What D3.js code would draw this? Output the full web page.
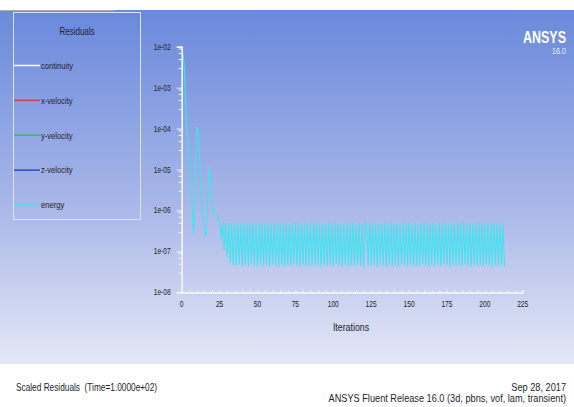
<!DOCTYPE html>
<html><head><meta charset="utf-8">
<script src="https://cdn.jsdelivr.net/npm/d3@7"></script>
<style>html,body{margin:0;padding:0;background:#fff;overflow:hidden}</style>
</head><body>
<svg id="c" width="574" height="407"></svg>
<script>
// ---- data ----
const seriesNames = ["continuity", "x-velocity", "y-velocity", "z-velocity", "energy"];
const seriesColors = ["#ffffff", "#c8405a", "#30c850", "#3444cc", "#40e4f0"];
const yTickValues = [1e-8, 1e-7, 1e-6, 1e-5, 1e-4, 1e-3, 1e-2];
const xTickValues = [0, 25, 50, 75, 100, 125, 150, 175, 200, 225];
// energy residual, one value per iteration (1..213)
const energy = [
  7.0e-3, 2.0e-3, 1.6e-4, 5.0e-5, 1.5e-5, 4.0e-6, 1.0e-6, 2.7e-7, 1.0e-5, 1.1e-4,
  8.0e-5, 1.2e-5, 2.5e-6, 7.0e-7, 3.0e-7, 2.3e-7, 2.0e-6, 1.2e-5, 4.0e-6, 1.4e-6,
  9.5e-7, 9.0e-7, 8.0e-7, 6.0e-7,
  5.2e-7, 2.0e-7, 5.0e-7, 1.1e-7, 4.9e-7, 7.0e-8, 5.1e-7, 5.2e-8, 4.8e-7, 4.5e-8,
  4.9e-7, 4.4e-8, 5.1e-7, 4.7e-8, 4.8e-7, 4.2e-8, 5.2e-7, 4.6e-8, 4.9e-7, 4.3e-8,
  5.0e-7, 4.8e-8, 4.7e-7, 4.4e-8, 5.2e-7, 4.1e-8, 4.9e-7, 4.6e-8, 5.1e-7, 4.3e-8,
  4.8e-7, 4.5e-8, 5.0e-7, 4.2e-8, 4.7e-7, 4.7e-8, 5.2e-7, 4.4e-8, 4.9e-7, 4.1e-8,
  5.1e-7, 4.6e-8, 4.8e-7, 4.3e-8, 5.0e-7, 4.5e-8, 4.6e-7, 4.2e-8, 5.1e-7, 4.8e-8,
  4.9e-7, 4.4e-8, 5.2e-7, 4.1e-8, 4.8e-7, 4.6e-8, 5.0e-7, 4.3e-8, 4.7e-7, 4.5e-8,
  5.1e-7, 4.2e-8, 4.9e-7, 4.7e-8, 5.2e-7, 4.4e-8, 4.8e-7, 4.1e-8, 5.0e-7, 4.6e-8,
  4.7e-7, 4.3e-8, 5.1e-7, 4.5e-8, 4.9e-7, 4.2e-8, 5.2e-7, 4.8e-8, 4.8e-7, 4.4e-8,
  5.0e-7, 4.1e-8, 4.6e-7, 4.6e-8, 5.1e-7, 4.3e-8, 4.9e-7, 4.5e-8, 5.2e-7, 4.2e-8,
  4.8e-7, 4.7e-8, 5.0e-7, 4.4e-8, 4.7e-7, 4.1e-8, 5.1e-7,
  4.3e-7, 4.6e-8, 4.9e-7, 4.3e-8, 5.2e-7, 4.5e-8, 4.8e-7, 4.2e-8, 5.0e-7, 4.8e-8,
  4.7e-7, 4.4e-8, 5.1e-7, 4.1e-8, 4.9e-7, 4.6e-8, 5.2e-7, 4.3e-8, 4.8e-7, 4.5e-8,
  5.0e-7, 4.2e-8, 4.6e-7, 4.7e-8, 5.1e-7, 4.4e-8, 4.9e-7, 4.1e-8, 5.2e-7, 4.6e-8,
  4.8e-7, 4.3e-8, 5.0e-7, 4.5e-8, 4.7e-7, 4.2e-8, 5.1e-7, 4.8e-8, 4.9e-7, 4.4e-8,
  5.2e-7, 4.1e-8, 4.8e-7, 4.6e-8, 5.0e-7, 4.3e-8, 4.6e-7, 4.5e-8, 5.1e-7, 4.2e-8,
  4.9e-7, 4.7e-8, 5.2e-7, 4.4e-8, 4.8e-7, 4.1e-8, 5.0e-7, 4.6e-8, 4.7e-7, 4.3e-8,
  5.1e-7, 4.5e-8, 4.9e-7, 4.2e-8, 5.2e-7, 4.8e-8, 4.8e-7, 4.4e-8, 5.0e-7, 4.1e-8,
  4.6e-7, 4.6e-8, 5.1e-7, 4.3e-8, 4.9e-7, 4.5e-8, 5.2e-7, 4.2e-8, 4.8e-7, 4.7e-8,
  5.0e-7, 4.4e-8, 4.7e-7, 4.1e-8, 5.1e-7, 4.6e-8, 4.9e-7, 4.3e-8, 5.2e-7, 4.5e-8,
  4.8e-7, 4.2e-8
];

// ---- drawing ----
const W = 574, H = 407;
const svg = d3.select("#c");
const FONT = "'Liberation Sans', Arial, sans-serif";
const NARROW = 0.8;
const INK = "#1e1e2a";

// horizontally condensed text helper
function label(parent, x, y, str, size, anchor, opts = {}) {
  return parent.append("text")
    .attr("transform", `translate(${x},${y}) scale(${opts.sx || NARROW},1)`)
    .attr("text-anchor", anchor || "start")
    .attr("font-family", FONT).attr("font-size", size)
    .attr("font-weight", opts.bold ? "bold" : "normal")
    .attr("fill", opts.fill || INK)
    .attr("xml:space", "preserve")
    .text(str);
}

const defs = svg.append("defs");
const grad = defs.append("linearGradient").attr("id", "bg").attr("x1", 0).attr("y1", 0).attr("x2", 0).attr("y2", 1);
grad.append("stop").attr("offset", "0%").attr("stop-color", "#6a89dc");
grad.append("stop").attr("offset", "55%").attr("stop-color", "#a9b7e8");
grad.append("stop").attr("offset", "100%").attr("stop-color", "#e3e7f6");

svg.append("rect").attr("x", 0).attr("y", 0).attr("width", W).attr("height", H).attr("fill", "#ffffff");
svg.append("rect").attr("x", 0).attr("y", 10).attr("width", W).attr("height", 354).attr("fill", "url(#bg)");
svg.append("line").attr("x1", 0).attr("x2", 115).attr("y1", 10.5).attr("y2", 10.5).attr("stroke", "#a9adb6").attr("stroke-width", 1);

const x = d3.scaleLinear().domain([0, 225]).range([181.7, 522.7]);
const y = d3.scaleLog().domain([1e-8, 1e-2]).range([292.3, 46.7]);

// minor ticks
const yMinor = [];
yTickValues.slice(0, -1).forEach(d => [3, 5, 7, 9].forEach(m => yMinor.push(d * m)));
const xMinor = d3.range(0, 226, 5);
const yFmt = d => "1e-" + String(-Math.round(Math.log10(d))).padStart(2, "0");

const axisColor = "#f4f6ff";
const yAxisG = svg.append("g").attr("transform", `translate(${x(0)},0)`);
yAxisG.call(d3.axisLeft(y).tickValues(yMinor).tickSize(3).tickFormat(""));
yAxisG.call(g => g.append("g").call(d3.axisLeft(y).tickValues(yTickValues).tickSize(5).tickFormat("")));
const xAxisG = svg.append("g").attr("transform", `translate(0,${y(1e-8)})`);
xAxisG.call(d3.axisTop(x).tickValues(xMinor).tickSize(2).tickFormat(""));
xAxisG.call(g => g.append("g").call(d3.axisBottom(x).tickValues(xTickValues).tickSize(0).tickFormat("")));
svg.selectAll(".domain").attr("stroke", axisColor).attr("stroke-width", 1.2);
svg.selectAll(".tick line").attr("stroke", axisColor);

// tick labels (condensed), positioned by the scales
yTickValues.forEach(v => label(svg, x(0) - 11, y(v) + 3, yFmt(v), 8.3, "end"));
xTickValues.forEach(v => label(svg, x(v), y(1e-8) + 15, String(v), 8.3, "middle"));

label(svg, 351, 331, "Iterations", 11, "middle");

// energy line
const line = d3.line().x((d, i) => x(i + 1)).y(d => y(d));
svg.append("path").datum(energy).attr("d", line).attr("fill", "none")
  .attr("stroke", seriesColors[4]).attr("stroke-width", 1.1);

// legend
svg.append("rect").attr("x", 13.5).attr("y", 12.5).attr("width", 127).attr("height", 207)
  .attr("fill", "none").attr("stroke", "#dde3f6").attr("stroke-width", 1);
label(svg, 77, 35, "Residuals", 10, "middle");
const legY = d3.scaleLinear().domain([0, 4]).range([65.5, 205]);
seriesNames.forEach((name, i) => {
  svg.append("line").attr("x1", 14).attr("x2", 40).attr("y1", legY(i)).attr("y2", legY(i))
    .attr("stroke", seriesColors[i]).attr("stroke-width", 1.5);
  label(svg, 41, legY(i) + 3.3, name, 9.5, "start");
});

// ANSYS logo
label(svg, 566, 43, "ANSYS", 16, "end", { bold: true, fill: "#ffffff", sx: 0.78 });
label(svg, 566, 54, "16.0", 9, "end", { fill: "#e4e9f8" });

// footer
label(svg, 16, 391, "Scaled Residuals  (Time=1.0000e+02)", 10, "start", { sx: 0.83 });
label(svg, 566, 391, "Sep 28, 2017", 10, "end", { sx: 0.92 });
label(svg, 566, 402, "ANSYS Fluent Release 16.0 (3d, pbns, vof, lam, transient)", 10, "end", { sx: 0.92 });
</script>
</body></html>
